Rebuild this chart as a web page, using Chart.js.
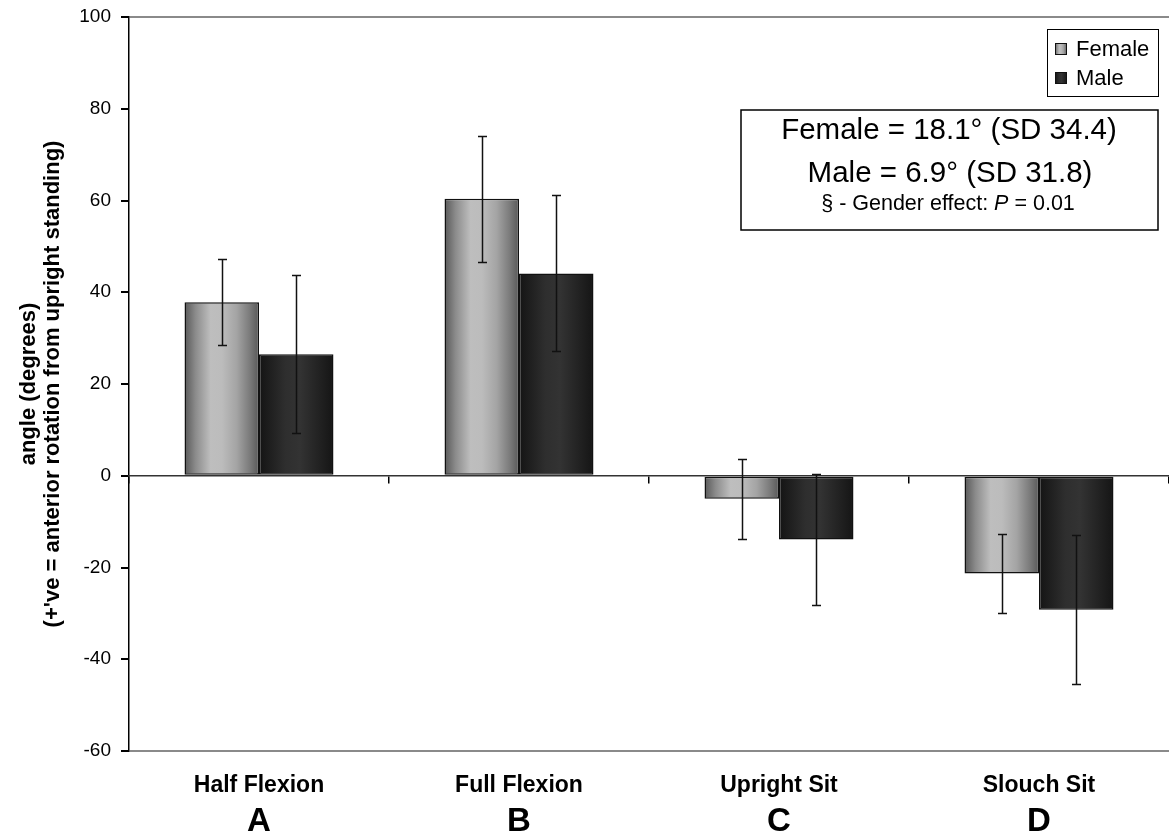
<!DOCTYPE html>
<html>
<head>
<meta charset="utf-8">
<script src="https://cdn.jsdelivr.net/npm/chart.js@4.4.1/dist/chart.umd.min.js"></script>
<style>
  html, body { margin: 0; padding: 0; background: #fff; }
  #wrap { width: 1169px; height: 836px; }
</style>
</head>
<body>
<div id="wrap"><canvas id="chart" width="1169" height="836"></canvas></div>
<script>
// values
const categories = ['Half Flexion', 'Full Flexion', 'Upright Sit', 'Slouch Sit'];
const letters = ['A', 'B', 'C', 'D'];
const femaleMean = [37.8, 60.4, -5.0, -21.3];
const femaleSD = [9.4, 13.7, 8.7, 8.6];
const maleMean = [26.5, 44.1, -13.9, -29.2];
const maleSD = [17.2, 17.0, 14.3, 16.2];
const seriesNames = ['Female', 'Male'];
const summaryLines = ['Female = 18.1° (SD 34.4)', 'Male = 6.9° (SD 31.8)'];
const pNote = ['§ - Gender effect: ', 'P', ' = 0.01'];

const FONT = "'Liberation Sans', Arial, sans-serif";
const CAT_PCT = 0.573;

const femaleStops = [[0, '#585858'], [0.15, '#8c8c8c'], [0.35, '#bebebe'], [0.5, '#bcbcbc'], [0.7, '#a4a4a4'], [0.87, '#7c7c7c'], [1, '#585858']];
const maleStops = [[0, '#141414'], [0.35, '#2e2e2e'], [0.55, '#333333'], [1, '#151515']];

// horizontal gradient per bar, positioned from the category scale
function barGradient(c, stops, side) {
  const chart = c.chart;
  const xs = chart.scales.x;
  if (c.type !== 'data' || !xs || !chart.chartArea) return stops[2][1];
  const center = xs.getPixelForValue(c.dataIndex);
  const w = xs.width / categories.length * CAT_PCT / 2;
  const left = side === 0 ? center - w : center;
  const g = chart.ctx.createLinearGradient(left, 0, left + w, 0);
  stops.forEach(([o, col]) => g.addColorStop(o, col));
  return g;
}

const errorBars = {
  id: 'errorBars',
  afterDatasetsDraw(chart) {
    const { ctx } = chart;
    const y = chart.scales.y;
    [femaleSD, maleSD].forEach((sd, di) => {
      const means = chart.data.datasets[di].data;
      chart.getDatasetMeta(di).data.forEach((bar, i) => {
        const top = Math.round(y.getPixelForValue(means[i] + sd[i])) + 0.5;
        const bot = Math.round(y.getPixelForValue(means[i] - sd[i])) + 0.5;
        const x = Math.round(bar.x) + 0.5;
        ctx.save();
        ctx.strokeStyle = '#111';
        ctx.lineWidth = 1.5;
        ctx.beginPath();
        ctx.moveTo(x, top); ctx.lineTo(x, bot);
        ctx.moveTo(x - 4.5, top); ctx.lineTo(x + 4.5, top);
        ctx.moveTo(x - 4.5, bot); ctx.lineTo(x + 4.5, bot);
        ctx.stroke();
        ctx.restore();
      });
    });
  }
};

const boxes = {
  id: 'boxes',
  afterDraw(chart) {
    const { ctx } = chart;
    ctx.save();
    // legend
    ctx.fillStyle = '#fff';
    ctx.fillRect(1047, 29, 111, 67);
    ctx.strokeStyle = '#000';
    ctx.lineWidth = 1;
    ctx.strokeRect(1047.5, 29.5, 111, 67);
    [femaleStops, maleStops].forEach((stops, i) => {
      const yc = 49 + i * 29;
      const g = ctx.createLinearGradient(1055, 0, 1067, 0);
      stops.forEach(([o, col]) => g.addColorStop(o, col));
      ctx.fillStyle = g;
      ctx.fillRect(1055, yc - 6, 12, 12);
      ctx.strokeStyle = '#111';
      ctx.strokeRect(1055.5, yc - 5.5, 11, 11);
      ctx.fillStyle = '#000';
      ctx.font = '22px ' + FONT;
      ctx.textBaseline = 'middle';
      ctx.textAlign = 'left';
      ctx.fillText(seriesNames[i], 1076, yc + 1);
    });

    // summary box
    ctx.fillStyle = '#fff';
    ctx.fillRect(741, 110, 417, 120);
    ctx.lineWidth = 1.5;
    ctx.strokeStyle = '#000';
    ctx.strokeRect(741, 110, 417, 120);
    ctx.fillStyle = '#000';
    ctx.textAlign = 'center';
    ctx.textBaseline = 'alphabetic';
    ctx.font = '29.5px ' + FONT;
    ctx.fillText(summaryLines[0], 949, 139);
    ctx.fillText(summaryLines[1], 950, 182);
    const fN = '21.5px ' + FONT, fI = 'italic 21.5px ' + FONT;
    ctx.font = fN; const w0 = ctx.measureText(pNote[0]).width, w2 = ctx.measureText(pNote[2]).width;
    ctx.font = fI; const w1 = ctx.measureText(pNote[1]).width;
    let x = 948 - (w0 + w1 + w2) / 2;
    ctx.textAlign = 'left';
    ctx.font = fN; ctx.fillText(pNote[0], x, 210); x += w0;
    ctx.font = fI; ctx.fillText(pNote[1], x, 210); x += w1;
    ctx.font = fN; ctx.fillText(pNote[2], x, 210);
    ctx.restore();
  }
};

new Chart(document.getElementById('chart'), {
  type: 'bar',
  data: {
    labels: categories,
    datasets: [
      {
        label: seriesNames[0], data: femaleMean,
        backgroundColor: c => barGradient(c, femaleStops, 0),
        borderColor: '#111', borderWidth: 1.5, borderSkipped: false,
        categoryPercentage: CAT_PCT, barPercentage: 1
      },
      {
        label: seriesNames[1], data: maleMean,
        backgroundColor: c => barGradient(c, maleStops, 1),
        borderColor: '#111', borderWidth: 1.5, borderSkipped: false,
        categoryPercentage: CAT_PCT, barPercentage: 1
      }
    ]
  },
  options: {
    responsive: false,
    animation: false,
    layout: { padding: { top: 17, right: 0, left: 0, bottom: 0 } },
    plugins: { legend: { display: false }, tooltip: { enabled: false } },
    scales: {
      y: {
        min: -60, max: 100,
        ticks: { stepSize: 20, color: '#000', font: { size: 19, family: FONT }, padding: 10 },
        grid: {
          color: c => (c.tick && (c.tick.value === 100 || c.tick.value === -60)) ? '#8a8a8a' : 'rgba(0,0,0,0)',
          lineWidth: 2,
          tickColor: '#000', tickLength: 8
        },
        border: { display: true, color: '#000', width: 1.5 },
        title: {
          display: true,
          text: ['angle (degrees)', "(+'ve = anterior rotation from upright standing)"],
          color: '#000',
          font: { size: 22, weight: 'bold', family: FONT, lineHeight: 1.1 },
          padding: { top: 17, bottom: 0 }
        },
        afterFit: s => { s.width = 129; s.paddingTop = 0; s.paddingBottom = 0; }
      },
      x: {
        weight: 0,
        offset: true,
        grid: { display: false, drawTicks: false },
        border: { display: false },
        ticks: { color: '#000', font: { size: 23, weight: 'bold', family: FONT }, padding: 21, maxRotation: 0 },
        afterFit: s => { s.height = 48; }
      },
      x2: {
        type: 'category',
        position: 'bottom',
        weight: 1,
        labels: letters,
        offset: true,
        grid: { display: false, drawTicks: false },
        border: { display: false },
        ticks: { color: '#000', font: { size: 33, weight: 'bold', family: FONT }, padding: 3, maxRotation: 0 },
        afterFit: s => { s.height = 37; }
      },
      xz: {
        type: 'category',
        position: { y: 0 },
        labels: categories,
        offset: true,
        grid: { offset: true, drawOnChartArea: false, color: '#000', tickLength: 7, lineWidth: 1.5 },
        border: { display: true, color: '#333', width: 1.5 },
        ticks: { display: false }
      }
    }
  },
  plugins: [errorBars, boxes]
});
</script>
</body>
</html>
